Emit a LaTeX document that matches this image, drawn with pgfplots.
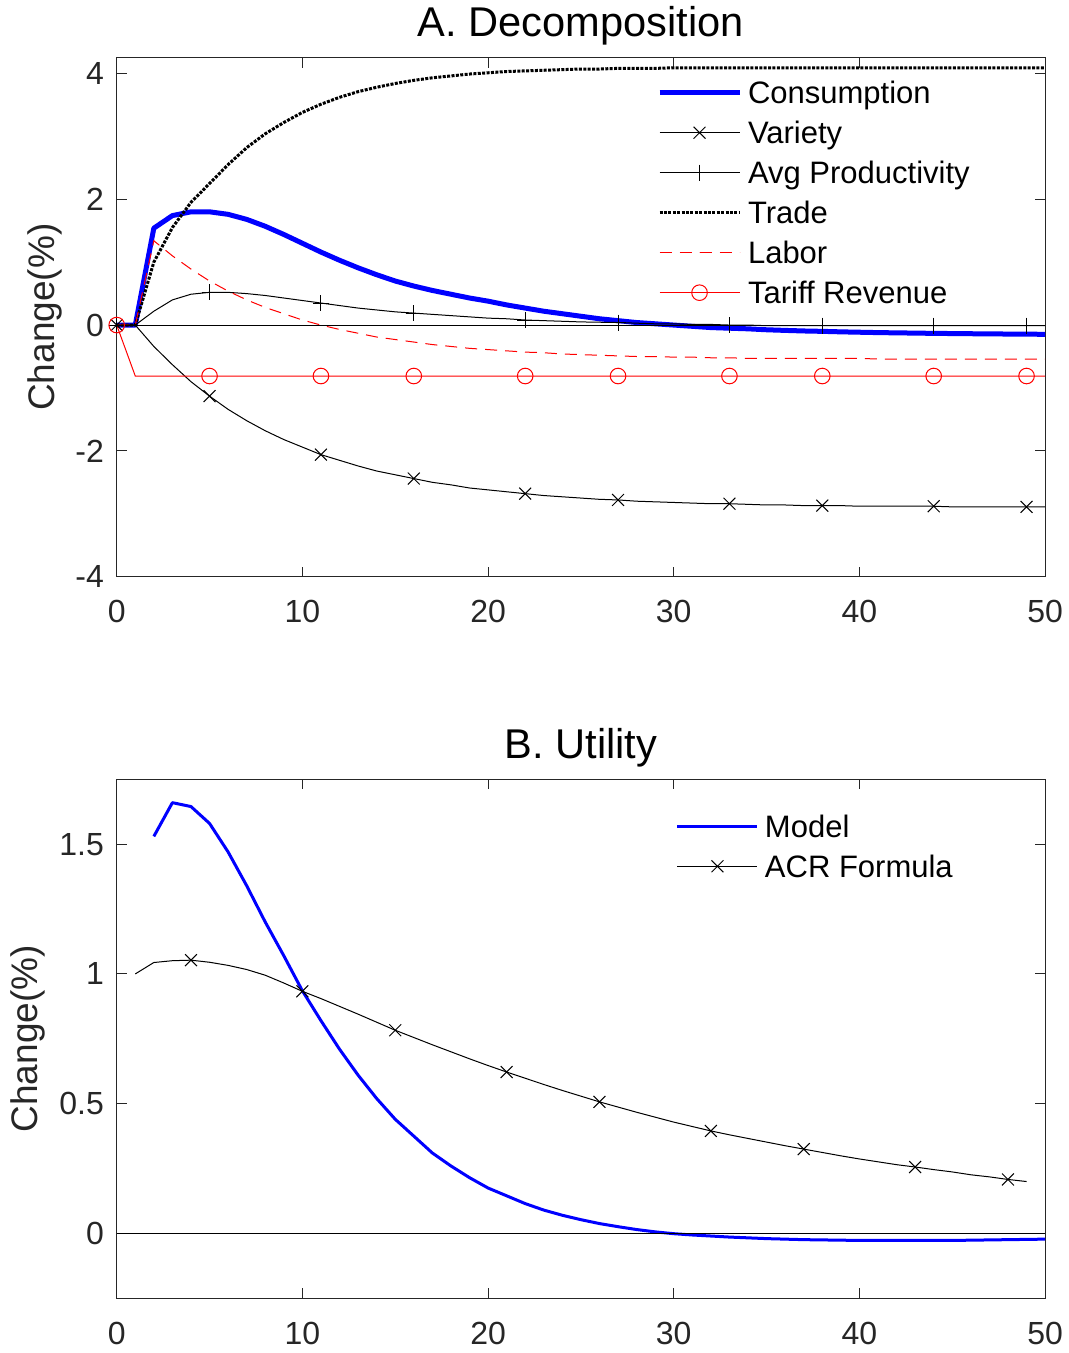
\documentclass[border=0pt]{standalone}
\usepackage{fontspec}
\setmainfont{Liberation Sans}
\usepackage{pgfplots}
\usepackage{pgfplotstable}
\pgfplotsset{compat=1.18}
\definecolor{axgray}{HTML}{262626}
\definecolor{mblue}{RGB}{0,0,255}
\definecolor{mred}{RGB}{255,0,0}

\pgfplotstableread{
x cons var prod trade labor tariff
0 0 0 0 0 0 0
1 0 0 0 0 0 -0.81
2 1.54 -0.34 0.22 1.00 1.34 -0.81
3 1.74 -0.63 0.40 1.55 1.10 -0.81
4 1.80 -0.90 0.49 1.95 0.89 -0.81
5 1.80 -1.13 0.52 2.25 0.70 -0.81
6 1.76 -1.34 0.52 2.55 0.54 -0.81
7 1.68 -1.52 0.50 2.82 0.40 -0.81
8 1.57 -1.68 0.47 3.04 0.28 -0.81
9 1.44 -1.82 0.43 3.22 0.18 -0.81
10 1.30 -1.94 0.39 3.38 0.08 -0.81
11 1.16 -2.06 0.35 3.51 0.00 -0.81
12 1.03 -2.15 0.31 3.62 -0.07 -0.81
13 0.91 -2.24 0.27 3.71 -0.13 -0.81
14 0.80 -2.32 0.24 3.78 -0.19 -0.81
15 0.70 -2.38 0.21 3.84 -0.23 -0.81
16 0.62 -2.44 0.19 3.89 -0.27 -0.81
17 0.55 -2.50 0.17 3.93 -0.31 -0.81
18 0.49 -2.54 0.15 3.96 -0.34 -0.81
19 0.43 -2.59 0.13 3.99 -0.37 -0.81
20 0.38 -2.62 0.11 4.01 -0.39 -0.81
21 0.32 -2.65 0.10 4.03 -0.41 -0.81
22 0.27 -2.68 0.08 4.04 -0.43 -0.81
23 0.22 -2.71 0.07 4.05 -0.44 -0.81
24 0.18 -2.73 0.06 4.06 -0.46 -0.81
25 0.14 -2.75 0.05 4.07 -0.47 -0.81
26 0.10 -2.77 0.045 4.07 -0.48 -0.81
27 0.07 -2.78 0.04 4.08 -0.49 -0.81
28 0.04 -2.80 0.03 4.08 -0.50 -0.81
29 0.02 -2.81 0.02 4.08 -0.50 -0.81
30 0.00 -2.82 0.02 4.09 -0.51 -0.81
31 -0.02 -2.83 0.01 4.09 -0.51 -0.81
32 -0.04 -2.84 0.01 4.09 -0.52 -0.81
33 -0.05 -2.84 0.00 4.09 -0.52 -0.81
34 -0.06 -2.85 0.00 4.09 -0.53 -0.81
35 -0.075 -2.86 -0.01 4.09 -0.53 -0.81
36 -0.085 -2.86 -0.01 4.09 -0.53 -0.81
37 -0.094 -2.87 -0.01 4.09 -0.53 -0.81
38 -0.10 -2.87 -0.01 4.09 -0.53 -0.81
39 -0.108 -2.87 -0.01 4.09 -0.53 -0.81
40 -0.114 -2.88 -0.01 4.09 -0.53 -0.81
41 -0.12 -2.88 -0.01 4.09 -0.54 -0.81
42 -0.124 -2.88 -0.01 4.09 -0.54 -0.81
43 -0.128 -2.88 -0.01 4.09 -0.54 -0.81
44 -0.132 -2.88 -0.01 4.09 -0.54 -0.81
45 -0.135 -2.89 -0.01 4.09 -0.54 -0.81
46 -0.138 -2.89 -0.01 4.09 -0.54 -0.81
47 -0.14 -2.89 -0.01 4.09 -0.54 -0.81
48 -0.143 -2.89 -0.01 4.09 -0.54 -0.81
49 -0.145 -2.89 -0.01 4.09 -0.54 -0.81
50 -0.147 -2.89 -0.01 4.09 -0.54 -0.81
}\toptable

\pgfplotstableread{
x model
2 1.53
3 1.66
4 1.645
5 1.58
6 1.47
7 1.34
8 1.20
9 1.07
10 0.935
11 0.82
12 0.71
13 0.61
14 0.52
15 0.44
16 0.375
17 0.31
18 0.26
19 0.215
20 0.175
21 0.145
22 0.115
23 0.09
24 0.07
25 0.053
26 0.038
27 0.026
28 0.015
29 0.006
30 -0.001
31 -0.006
32 -0.010
33 -0.014
34 -0.017
35 -0.020
36 -0.022
37 -0.024
38 -0.025
39 -0.026
40 -0.027
41 -0.027
42 -0.027
43 -0.027
44 -0.027
45 -0.027
46 -0.026
47 -0.025
48 -0.024
49 -0.023
50 -0.022
}\modeltable

\pgfplotstableread{
x acr
1 1.00
2 1.044
3 1.051
4 1.053
5 1.045
6 1.033
7 1.017
8 0.995
9 0.965
10 0.933
11 0.905
12 0.875
13 0.845
14 0.814
15 0.783
16 0.755
17 0.727
18 0.700
19 0.673
20 0.647
21 0.622
22 0.598
23 0.574
24 0.551
25 0.529
26 0.507
27 0.487
28 0.467
29 0.448
30 0.429
31 0.412
32 0.395
33 0.380
34 0.366
35 0.352
36 0.338
37 0.325
38 0.312
39 0.299
40 0.287
41 0.276
42 0.265
43 0.256
44 0.246
45 0.237
46 0.226
47 0.218
48 0.208
49 0.200
}\acrtable

\pgfplotsset{
  matstyle/.style={
    scale only axis, width=464.2pt, height=259.5pt,
    xmin=0, xmax=50, xtick={0,10,20,30,40,50},
    clip=false,
    axis line style={axgray, line width=0.5pt},
    every tick/.style={axgray, line width=0.5pt},
    major tick length=5pt,
    tick align=inside,
    /pgf/number format/assume math mode=true,
    ticklabel style={font=\fontsize{16}{19}\selectfont, text=axgray},
    xticklabel style={anchor=north, inner sep=0pt, yshift=-11.5pt},
    yticklabel style={anchor=east, inner sep=0pt, xshift=-6.2pt},
    title style={font=\fontsize{20.8}{24}\selectfont, at={(axis description cs:0.5,1)}, anchor=base, yshift=4.5pt},
    ylabel style={font=\fontsize{18.5}{22}\selectfont, text=axgray, anchor=center, rotate=0},
    legend cell align=left,
    legend style={draw=none, fill=none, inner sep=0pt, outer sep=0pt,
      font=\fontsize{15.5}{18}\selectfont, row sep=5pt,
      nodes={inner sep=0pt, text height=11.5pt, text depth=3.5pt},
      /tikz/every odd column/.style={column sep=3pt}},
    legend image code/.code={\draw[##1, mark indices={2}] plot coordinates {(0pt,1.5pt) (20pt,1.5pt) (40pt,1.5pt)};},
  },
}

\begin{document}
\begin{tikzpicture}
\begin{axis}[matstyle,
  ymin=-4, ymax=4.25, ytick={-4,-2,0,2,4},
  title={A. Decomposition},
  ylabel={Change(\%)},
  ylabel style={at={(axis description cs:-0.0772,0.5)}},
  legend style={at={(axis description cs:0.582,0.9557)}, anchor=north west},
]
\addplot[mblue, line width=2.5pt, line join=round] table[x=x,y=cons]{\toptable};
\addlegendentry{Consumption}
\addplot[black, line width=0.5pt, mark=x, mark size=4.2pt, mark indices={1,6,12,17,23,28,34,39,45,50}] table[x=x,y=var]{\toptable};
\addlegendentry{Variety}
\addplot[black, line width=0.5pt, mark=+, mark size=4pt, mark indices={1,6,12,17,23,28,34,39,45,50}] table[x=x,y=prod]{\toptable};
\addlegendentry{Avg Productivity}
\addplot[black, line width=1.5pt, dash pattern=on 1.5pt off 0.7pt] table[x=x,y=trade]{\toptable};
\addlegendentry{Trade}
\addplot[mred, line width=0.5pt, dash pattern=on 6pt off 4pt] table[x=x,y=labor]{\toptable};
\addlegendentry{Labor}
\addplot[mred, line width=0.5pt, mark=o, mark size=3.9pt, mark indices={1,6,12,17,23,28,34,39,45,50}] table[x=x,y=tariff]{\toptable};
\addlegendentry{Tariff Revenue}
\addplot[black, line width=0.5pt, forget plot] coordinates {(0,0) (50,0)};
\end{axis}

\begin{axis}[matstyle, at={(0pt,-360.8pt)},
  ymin=-0.25, ymax=1.75, ytick={0,0.5,1,1.5},
  title={B. Utility},
  ylabel={Change(\%)},
  ylabel style={at={(axis description cs:-0.0955,0.5)}},
  legend style={at={(axis description cs:0.6024,0.9326)}, anchor=north west},
]
\addplot[mblue, line width=1.5pt, line join=round] table[x=x,y=model]{\modeltable};
\addlegendentry{Model}
\addplot[black, line width=0.5pt, mark=x, mark size=4.2pt, mark indices={4,10,15,21,26,32,37,43,48}] table[x=x,y=acr]{\acrtable};
\addlegendentry{ACR Formula}
\addplot[black, line width=0.5pt, forget plot] coordinates {(0,0) (50,0)};
\end{axis}

\pgfresetboundingbox
\path[use as bounding box] (-58.35pt,-388.15pt) rectangle (476.15pt,288.35pt);
\end{tikzpicture}
\end{document}
